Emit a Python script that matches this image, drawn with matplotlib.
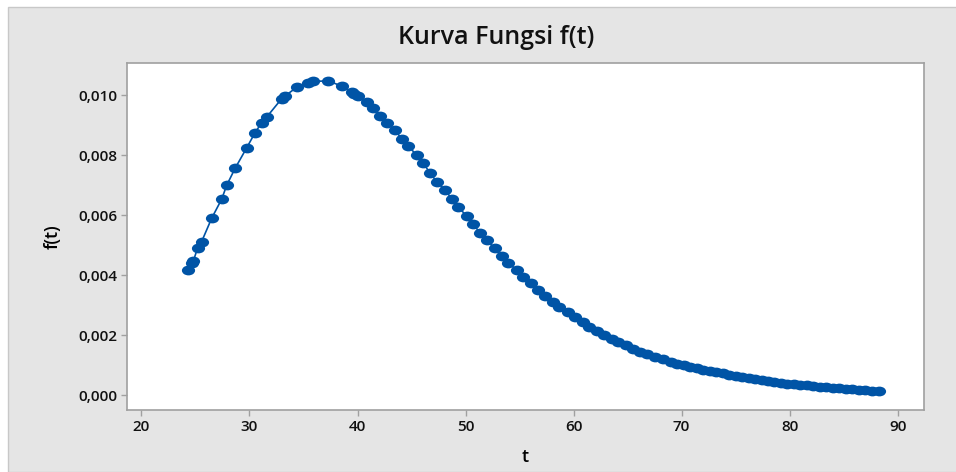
import matplotlib
matplotlib.use('Agg')
import matplotlib.pyplot as plt
import numpy as np
from matplotlib.path import Path
from matplotlib.patches import Rectangle
from matplotlib.ticker import FuncFormatter

# Data
t = [24.28, 24.65, 24.8, 25.2, 25.57, 26.5, 27.43, 27.89, 28.66, 29.74,
     30.51, 31.13, 31.6, 32.98, 33.29, 34.37, 35.44, 35.9, 37.3, 38.54,
     39.46, 39.7, 40.07, 40.85, 41.46, 42.08, 42.76, 43.47, 44.12, 44.7,
     45.48, 46.1, 46.71, 47.33, 48.1, 48.72, 49.33, 50.11, 50.72, 51.34,
     51.97, 52.73, 53.35, 53.96, 54.74, 55.35, 56.04, 56.68, 57.36, 58.07,
     58.69, 59.52, 60.14, 60.85, 61.46, 62.15, 62.82, 63.54, 64.15, 64.86,
     65.48, 66.16, 66.78, 67.55, 68.3, 69.0, 69.6, 70.2, 70.8, 71.4,
     72.0, 72.6, 73.2, 73.8, 74.4, 75.0, 75.6, 76.2, 76.8, 77.4,
     78.0, 78.6, 79.2, 79.8, 80.4, 81.0, 81.6, 82.2, 82.8, 83.4,
     84.0, 84.6, 85.2, 85.8, 86.4, 87.0, 87.6, 88.3]
ft = [0.00417, 0.00440, 0.00447, 0.00491, 0.00512, 0.00590, 0.00654, 0.00700, 0.00756, 0.00825,
      0.00875, 0.00909, 0.00928, 0.00989, 0.00998, 0.01027, 0.01042, 0.01047, 0.01048, 0.01031,
      0.01011, 0.01005, 0.00999, 0.00977, 0.00957, 0.00932, 0.00908, 0.00883, 0.00854, 0.00830,
      0.00801, 0.00773, 0.00741, 0.00712, 0.00684, 0.00655, 0.00626, 0.00598, 0.00570, 0.00541,
      0.00516, 0.00489, 0.00464, 0.00441, 0.00417, 0.00393, 0.00373, 0.00350, 0.00330, 0.00311,
      0.00295, 0.00278, 0.00259, 0.00243, 0.00228, 0.00215, 0.00200, 0.00187, 0.00176, 0.00166,
      0.00155, 0.00145, 0.00137, 0.00128, 0.00119, 0.00111, 0.00105, 0.00099, 0.00094, 0.00089,
      0.00084, 0.00080, 0.00076, 0.00072, 0.00068, 0.00064, 0.00060, 0.00056, 0.00053, 0.00050,
      0.00047, 0.00044, 0.00041, 0.00038, 0.00036, 0.00034, 0.00032, 0.00030, 0.00028, 0.00026,
      0.00024, 0.00022, 0.00021, 0.00019, 0.00017, 0.00016, 0.00014, 0.00012]

x_ticks = [20, 30, 40, 50, 60, 70, 80, 90]
y_ticks = [0.0, 0.002, 0.004, 0.006, 0.008, 0.010]

plt.rcParams['font.family'] = ['Open Sans', 'DejaVu Sans']

fig = plt.figure(figsize=(9.56, 4.72), dpi=100)
fig.patch.set_facecolor('white')

# grey panel behind the plot (Minitab style)
panel = Rectangle((8 / 956, 0), 1, 1 - 7 / 472, transform=fig.transFigure,
                  facecolor='#e5e5e5', edgecolor='#c8c8c8', linewidth=1)
panel.set_zorder(-10)
fig.patches.append(panel)

ax = fig.add_axes([127 / 956, 62 / 472, 797 / 956, 347 / 472])
ax.set_facecolor('white')

# elliptical marker like the stretched original
circ = Path.unit_circle()
ell = Path(circ.vertices * np.array([1.35, 1.0]), circ.codes)

color = '#0054a6'
ax.plot(t, ft, color=color, linewidth=1.2, zorder=2)
ax.plot(t, ft, linestyle='none', marker=ell, markersize=9.5, color=color,
        markeredgewidth=0, zorder=3)

ax.set_xlim(18.66, 92.44)
ax.set_ylim(-0.0005, 0.01108)
ax.set_xticks(x_ticks)
ax.set_yticks(y_ticks)
ax.yaxis.set_major_formatter(FuncFormatter(lambda v, p: f'{v:.3f}'.replace('.', ',')))

for s in ax.spines.values():
    s.set_color('#a0a0a0')
    s.set_linewidth(1.2)
ax.tick_params(direction='out', length=4, width=1, color='#a0a0a0',
               labelsize=11, labelcolor='#111111', pad=3)
for lab in ax.get_xticklabels() + ax.get_yticklabels():
    lab.set_fontweight('semibold')

ax.set_xlabel('t', fontsize=13, fontweight='semibold', labelpad=10)
ax.set_ylabel('f(t)', fontsize=13, fontweight='semibold', labelpad=12)
fig.text(496 / 956, 1 - 38 / 472, 'Kurva Fungsi f(t)', ha='center', va='center',
         fontsize=18, fontweight='semibold', color='#111111')

fig.savefig('out.png', dpi=100, facecolor=fig.get_facecolor())
